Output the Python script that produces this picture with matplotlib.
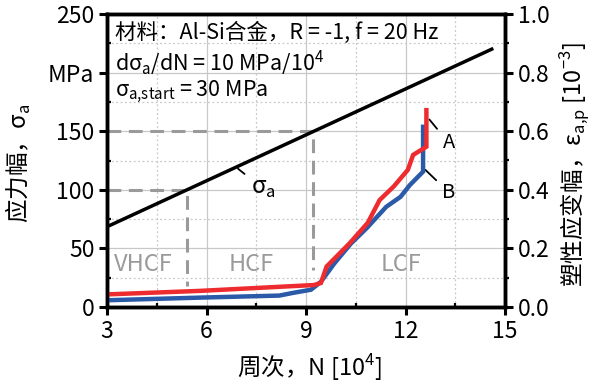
import matplotlib

matplotlib.use("Agg")

import matplotlib.pyplot as plt
from matplotlib.ticker import MultipleLocator

plt.rcParams["font.family"] = ["Noto Sans CJK SC", "DejaVu Sans"]
plt.rcParams["mathtext.fontset"] = "custom"
plt.rcParams["mathtext.rm"] = "Noto Sans CJK SC"

# stress amplitude ramp (left axis, MPa)
SIGMA_N = [3.0, 14.6]
SIGMA_A = [68.5, 220.0]

# plastic strain amplitude (right axis, 10^-3)
BLUE_N = [3.0, 5.8, 8.2, 8.6, 9.15, 9.45, 9.85, 10.35, 10.82, 11.42, 11.85, 12.13, 12.53, 12.53]
BLUE_EPS = [0.023, 0.032, 0.039, 0.048, 0.059, 0.086, 0.148, 0.216, 0.268, 0.342, 0.376, 0.416, 0.462, 0.615]
RED_N = [3.0, 5.8, 9.24, 9.45, 9.62, 10.32, 10.86, 11.22, 11.65, 12.07, 12.23, 12.63, 12.63]
RED_EPS = [0.043, 0.055, 0.075, 0.082, 0.138, 0.218, 0.287, 0.365, 0.412, 0.468, 0.519, 0.547, 0.672]

# regime limits
VHCF_N, VHCF_SIGMA, VHCF_LOW = 5.41, 100, 17.5
HCF_N, HCF_SIGMA, HCF_LOW = 9.22, 150, 31.5

LEFT_TICKS = [0, 50, 100, 150, 200, 250]
LEFT_LABELS = ["0", "50", "100", "150", "MPa", "250"]
X_TICKS = [3, 6, 9, 12, 15]
RIGHT_TICKS = [0.0, 0.2, 0.4, 0.6, 0.8, 1.0]

BLUE = "#2a5aa8"
RED = "#ee2b2e"
GRAY = "#9a9a9a"

fig = plt.figure(figsize=(6.02, 3.85), dpi=100)
ax = fig.add_axes((107 / 602, 78 / 385, 398 / 602, 293 / 385))
ax2 = ax.twinx()

ax.set_xlim(3, 15)
ax.set_ylim(0, 250)
ax2.set_ylim(0, 1.0)

ax.xaxis.set_minor_locator(MultipleLocator(1.5))
ax.yaxis.set_minor_locator(MultipleLocator(25))
ax2.yaxis.set_minor_locator(MultipleLocator(0.1))
ax.set_xticks(X_TICKS)
ax.set_yticks(LEFT_TICKS, LEFT_LABELS)
ax2.set_yticks(RIGHT_TICKS, [f"{t:.1f}" for t in RIGHT_TICKS])

ax.grid(which="major", color="#c8c8c8", linewidth=0.9)
ax.grid(which="minor", color="#c8c8c8", linewidth=0.9, linestyle=(0, (1.5, 2)))
ax.set_axisbelow(True)

for axis in (ax, ax2):
    for spine in axis.spines.values():
        spine.set_linewidth(2.5)
    axis.tick_params(which="major", length=6, width=2.2, labelsize=16.5, pad=3)
    axis.tick_params(which="minor", length=3, width=1.6)
ax.tick_params(axis="both", which="minor", direction="in")
ax2.tick_params(axis="y", which="both", direction="out")

ax.plot([3, VHCF_N, VHCF_N], [VHCF_SIGMA, VHCF_SIGMA, VHCF_LOW],
        color=GRAY, linewidth=2.2, linestyle=(0, (4.5, 2.5)))
ax.plot([3, HCF_N, HCF_N], [HCF_SIGMA, HCF_SIGMA, HCF_LOW],
        color=GRAY, linewidth=2.2, linestyle=(0, (4.5, 2.5)))
ax.plot(SIGMA_N, SIGMA_A, color="black", linewidth=2.5)

ax2.plot(BLUE_N, BLUE_EPS, color=BLUE, linewidth=3.2, solid_joinstyle="miter")
ax2.plot(RED_N, RED_EPS, color=RED, linewidth=3.2, solid_joinstyle="miter")

for name, n in (("VHCF", 4.1), ("HCF", 7.35), ("LCF", 11.85)):
    ax.text(n, 36, name, color=GRAY, fontsize=17, ha="center", va="center")

leader = dict(arrowstyle="-", color="black", linewidth=1.3, shrinkA=3, shrinkB=0)
ax.annotate("A", xy=(12.72, 160), xytext=(13.3, 140), fontsize=14.5,
            ha="center", va="center", arrowprops=leader)
ax.annotate("B", xy=(12.6, 117), xytext=(13.3, 98), fontsize=14.5,
            ha="center", va="center", arrowprops=leader)
ax.annotate("σ$_\\mathregular{a}$", xy=(6.95, 118), xytext=(7.7, 101), fontsize=17,
            ha="center", va="center", arrowprops=leader)

ax.text(0.02, 0.935, "材料：Al-Si合金，R = -1, f = 20 Hz", transform=ax.transAxes,
        fontsize=15.5, va="center")
ax.text(0.02, 0.83, "dσ$_\\mathregular{a}$/dN = 10 MPa/10$^\\mathregular{4}$",
        transform=ax.transAxes, fontsize=15.5, va="center")
ax.text(0.02, 0.735, "σ$_\\mathregular{a{,}start}$ = 30 MPa", transform=ax.transAxes,
        fontsize=15.5, va="center")

ax.set_xlabel("周次，N [10$^\\mathregular{4}$]", fontsize=17)
ax.xaxis.set_label_coords(0.51, -0.155)
ax.set_ylabel("应力幅，σ$_\\mathregular{a}$", fontsize=17)
ax.yaxis.set_label_coords(-0.185, 0.49)
ax2.set_ylabel("塑性应变幅，ε$_\\mathregular{a{,}p}$ [10$^\\mathregular{-3}$]", fontsize=17)
ax2.yaxis.set_label_coords(1.135, 0.485)

fig.savefig("out.png", dpi=100)
plt.close(fig)
